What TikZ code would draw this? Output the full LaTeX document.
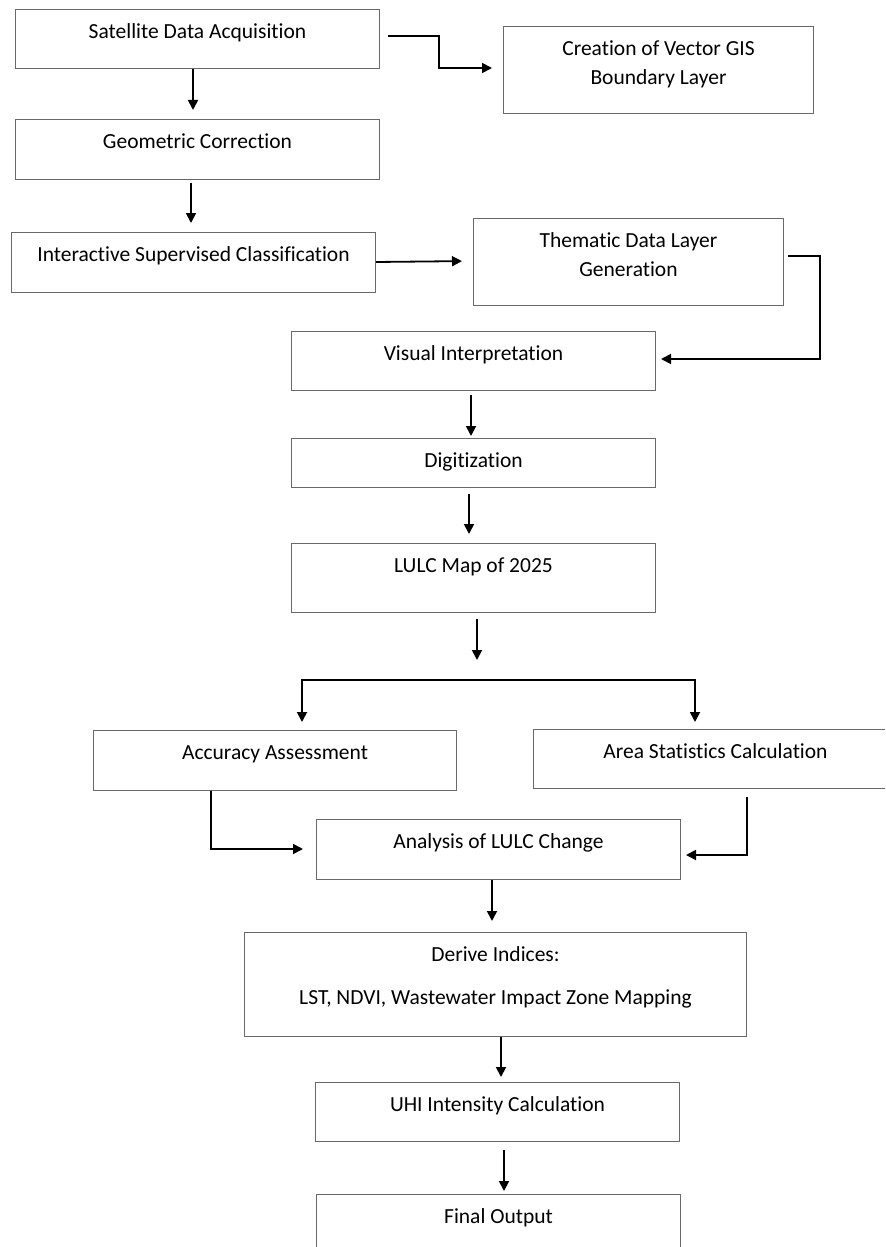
\documentclass[tikz,border=0pt]{standalone}
\usepackage{fontspec}
\setmainfont{Carlito}[Ligatures=NoCommon]
\usetikzlibrary{arrows.meta}
\definecolor{boxline}{RGB}{105,105,105}

\begin{document}
\begin{tikzpicture}[x=0.5pt,y=-0.5pt,
        box/.style={draw=boxline,line width=0.5pt,anchor=north west,inner sep=0pt,align=flush center,
            font=\fontsize{10.75}{14.5}\selectfont,text height=14.5pt},
        arr/.style={line width=0.9pt,-{Triangle[length=5pt,width=5pt]}}]
        \useasboundingbox(0,0)rectangle(885,1247);
        \clip(0,0)rectangle(885,1247);
        \node[box,text width=182pt,text depth=15pt](sat)at(15,9){Satellite Data Acquisition};
        \node[box,text width=155pt,text depth=29pt](gis)at(503,26){Creation of Vector GIS\\Boundary Layer};
        \node[box,text width=182pt,text depth=15.5pt](geo)at(15,119){Geometric Correction};
        \node[box,text width=182pt,text depth=15.5pt](ics)at(11,232){Interactive Supervised Classification};
        \node[box,text width=155pt,text depth=29pt](them)at(473,218){Thematic Data Layer\\Generation};
        \node[box,text width=182pt,text depth=15pt](vis)at(291,331){Visual Interpretation};
        \node[box,text width=182pt,text depth=10pt](dig)at(291,438){Digitization};
        \node[box,text width=182pt,text depth=20pt](lulc)at(291,543){LULC Map of 2025};
        \node[box,text width=181.5pt,text depth=15.5pt](acc)at(93,730){Accuracy Assessment};
        \node[box,text width=182pt,text depth=15pt](area)at(533,729){Area Statistics Calculation};
        \node[box,text width=182pt,text depth=15.5pt](ana)at(316,819){Analysis of LULC Change};
        \node[box,text width=251pt,text depth=37.5pt](ind)at(244,932){Derive Indices:\\[7pt]LST, NDVI, Wastewater Impact Zone Mapping};
        \node[box,text width=182pt,text depth=15pt](uhi)at(315,1082){UHI Intensity Calculation};
        \node[box,text width=182pt,text depth=15.5pt](out)at(316,1194){Final Output};
        \coordinate(fork)at(477,680);
        \draw[arr,shorten >=4.5pt](193,0|-sat.south)--(193,0|-geo.north);
        \draw[arr,shorten <=4pt,shorten >=5.5pt](sat.east|-0,36)-|(439,68)--(gis.west|-0,68);
        \draw[arr,shorten <=1.5pt,shorten >=4.5pt](191,0|-geo.south)--(191,0|-ics.north);
        \draw[arr,shorten >=5.5pt](ics.east|-0,262)--(them.west|-0,261);
        \draw[arr,shorten <=2pt,shorten >=2.5pt](them.east|-0,256)-|(820,359)--(vis.east|-0,359);
        \draw[arr,shorten <=2pt,shorten >=1pt](471,0|-vis.south)--(471,0|-dig.north);
        \draw[arr,shorten <=3pt,shorten >=4.5pt](469,0|-dig.south)--(469,0|-lulc.north);
        \draw[arr,shorten <=3pt,shorten >=10pt](477,0|-lulc.south)--(fork);
        \draw[arr,shorten >=4pt](fork)-|(302,0|-acc.north);
        \draw[arr,shorten >=3.5pt](fork)-|(695,0|-area.north);
        \draw[arr,shorten >=6.5pt](211,0|-acc.south)|-(ana.west|-0,849);
        \draw[arr,shorten <=4pt,shorten >=2.5pt](747,0|-area.south)|-(ana.east|-0,855);
        \draw[arr,shorten >=5.5pt](492,0|-ana.south)--(492,0|-ind.north);
        \draw[arr,shorten >=2.5pt](501,0|-ind.south)--(501,0|-uhi.north);
        \draw[arr,shorten <=4pt,shorten >=1.5pt](504,0|-uhi.south)--(504,0|-out.north);
    \end{tikzpicture}
\end{document}
